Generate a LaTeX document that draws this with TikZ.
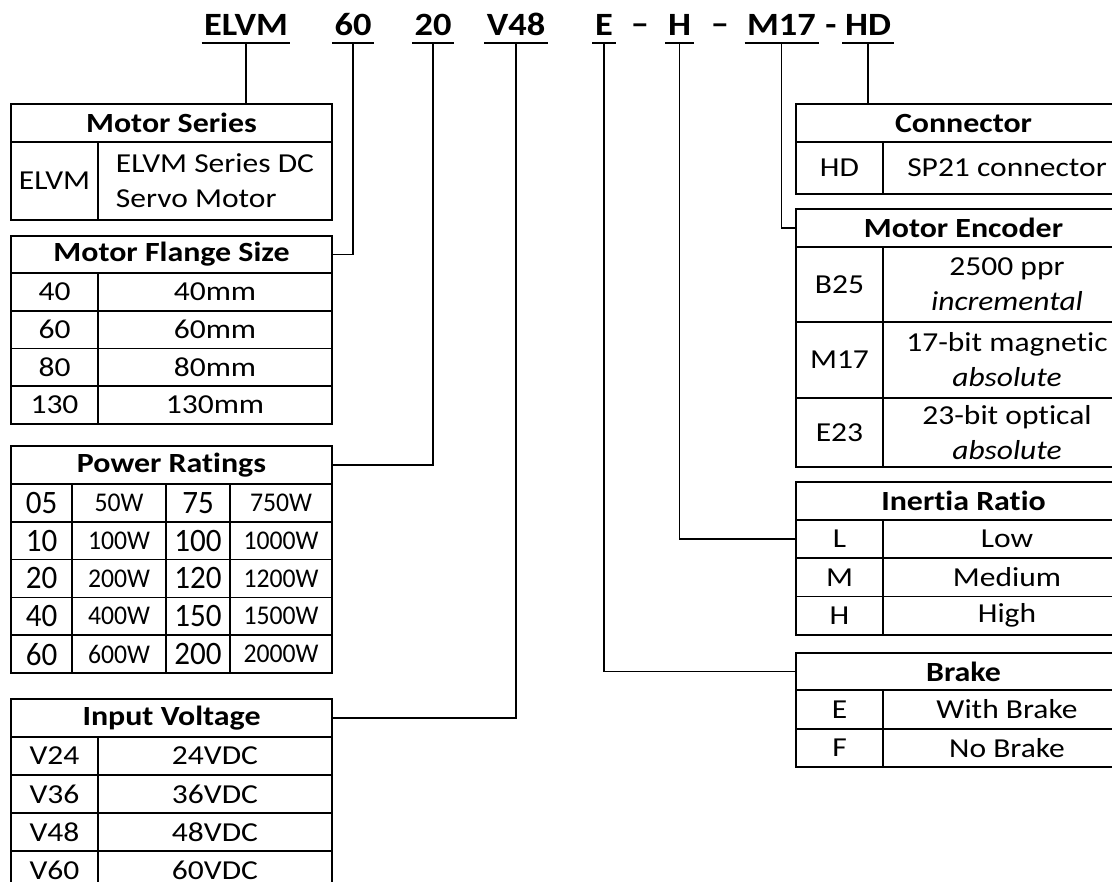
\documentclass[tikz,border=0pt]{standalone}
\usepackage{fontspec}
\setmainfont{Carlito}[FakeStretch=1.15,Ligatures=NoCommon]
\newfontfamily\hdrfont{Carlito}[FakeStretch=1.12,Ligatures=NoCommon]
\newfontfamily\codefont{Carlito}[FakeStretch=0.95,Ligatures=NoCommon]
\usetikzlibrary{positioning}

% one table cell: [style]{name}{x1}{y1}{x2}{y2}{text}, in pixels
\newcommand\tabcell[7][]{\node[cell,#1,minimum width={(#5-#3)*0.02cm},minimum height={(#6-#4)*0.02cm}] (#2) at ({(#3+#5)/2},{(#4+#6)/2}) {#7};}

\begin{document}
\begin{tikzpicture}[x=0.02cm,y=-0.02cm,line width=1pt,
 cell/.style={draw,inner sep=0pt,align=center,font=\fontsize{15.6}{20}\selectfont},
 ttl/.style={font=\fontsize{15.8}{18}\selectfont\bfseries},
 num/.style={font=\codefont\fontsize{18.6}{22}\selectfont},
 watt/.style={font=\codefont\fontsize{15.4}{18}\selectfont},
 part/.style={anchor=base,inner xsep=1pt,inner ysep=3.4pt,text depth=0pt,
   font=\hdrfont\fontsize{18.5}{22}\selectfont\bfseries}]
\useasboundingbox (0,0) rectangle (1112,882);
\clip (0,0) rectangle (1112,882);

% part number
\node[part] (hELVM) at (246,36) {ELVM};
\node[part] (h60) at (353,36) {60};
\node[part] (h20) at (433,36) {20};
\node[part] (hV48) at (516,36) {V48};
\node[part] (hE) at (604,36) {E};
\node[part] (dashA) at (640,35) {–};
\node[part] (hH) at (679.5,36) {H};
\node[part] (dashB) at (720,35) {–};
\node[part] (hM17) at (781.5,36) {M17};
\node[part] (dashC) at (831,36) {-};
\node[part] (hHD) at (868,36) {HD};
\foreach \p in {hELVM,h60,h20,hV48,hE,hH,hM17,hHD}
  \draw (\p.south west) -- (\p.south east);

% left tables
\tabcell[ttl]{serT}{11}{104}{332}{142}{Motor Series}
\tabcell{serc}{11}{142}{98}{220}{ELVM}
\tabcell[align=left]{serd}{98}{142}{332}{220}{ELVM Series DC\\Servo Motor}

\tabcell[ttl]{flgT}{11}{236}{332}{273}{Motor Flange Size}
\foreach \c/\d [count=\i from 0] in {40/40mm,60/60mm,80/80mm,130/130mm}{
  \pgfmathsetmacro\ya{273+37.75*\i}
  \pgfmathsetmacro\yb{\ya+37.75}
  \tabcell{flgc\i}{11}{\ya}{98}{\yb}{\c}
  \tabcell{flgd\i}{98}{\ya}{332}{\yb}{\d}
}

\tabcell[ttl]{pwrT}{11}{446}{332}{484}{Power Ratings}
\foreach \a/\b/\c/\d [count=\i from 0] in {05/50W/75/750W,10/100W/100/1000W,
  20/200W/120/1200W,40/400W/150/1500W,60/600W/200/2000W}{
  \pgfmathsetmacro\ya{484+37.8*\i}
  \pgfmathsetmacro\yb{\ya+37.8}
  \tabcell[num]{pwra\i}{11}{\ya}{72}{\yb}{\a}
  \tabcell[watt]{pwrb\i}{72}{\ya}{166}{\yb}{\b}
  \tabcell[num]{pwrc\i}{166}{\ya}{230}{\yb}{\c}
  \tabcell[watt]{pwrd\i}{230}{\ya}{332}{\yb}{\d}
}

\tabcell[ttl]{vltT}{11}{699}{332}{737}{Input Voltage}
\foreach \c/\d [count=\i from 0] in {V24/24VDC,V36/36VDC,V48/48VDC,V60/60VDC}{
  \pgfmathsetmacro\ya{737+38*\i}
  \pgfmathsetmacro\yb{\ya+38}
  \tabcell{vltc\i}{11}{\ya}{98}{\yb}{\c}
  \tabcell{vltd\i}{98}{\ya}{332}{\yb}{\d}
}

% right tables
\tabcell[ttl]{conT}{796}{104}{1131}{142}{Connector}
\tabcell{conc}{796}{142}{883}{194}{HD}
\tabcell{cond}{883}{142}{1131}{194}{SP21 connector}

\tabcell[ttl]{encT}{796}{209}{1131}{247}{Motor Encoder}
\tabcell{encc0}{796}{247}{883}{322}{B25}
\tabcell{encd0}{883}{247}{1131}{322}{2500 ppr\\\textit{incremental}}
\tabcell{encc1}{796}{322}{883}{398}{M17}
\tabcell{encd1}{883}{322}{1131}{398}{17-bit magnetic\\\textit{absolute}}
\tabcell{encc2}{796}{398}{883}{467}{E23}
\tabcell{encd2}{883}{398}{1131}{467}{23-bit optical\\\textit{absolute}}

\tabcell[ttl]{ineT}{796}{482}{1131}{520}{Inertia Ratio}
\foreach \c/\d [count=\i from 0] in {L/Low,M/Medium,H/High}{
  \pgfmathsetmacro\ya{520+38.3*\i}
  \pgfmathsetmacro\yb{\ya+38.3}
  \tabcell{inec\i}{796}{\ya}{883}{\yb}{\c}
  \tabcell{ined\i}{883}{\ya}{1131}{\yb}{\d}
}

\tabcell[ttl]{brkT}{796}{653}{1131}{690}{Brake}
\tabcell{brkc0}{796}{690}{883}{729}{E}
\tabcell{brkd0}{883}{690}{1131}{729}{With Brake}
\tabcell{brkc1}{796}{729}{883}{767}{F}
\tabcell{brkd1}{883}{729}{1131}{767}{No Brake}

% leader lines
\draw (hELVM.south) -- (hELVM.south |- serT.north);
\draw (h60.south) |- (flgT.east);
\draw (h20.south) |- (pwrT.east);
\draw (hV48.south) |- (vltT.east);
\draw (hE.south) |- (brkT.west);
\draw (hH.south) |- (inec0.west);
\draw (hM17.south) |- (encT.west);
\draw (hHD.south) -- (hHD.south |- conT.north);
\end{tikzpicture}
\end{document}
